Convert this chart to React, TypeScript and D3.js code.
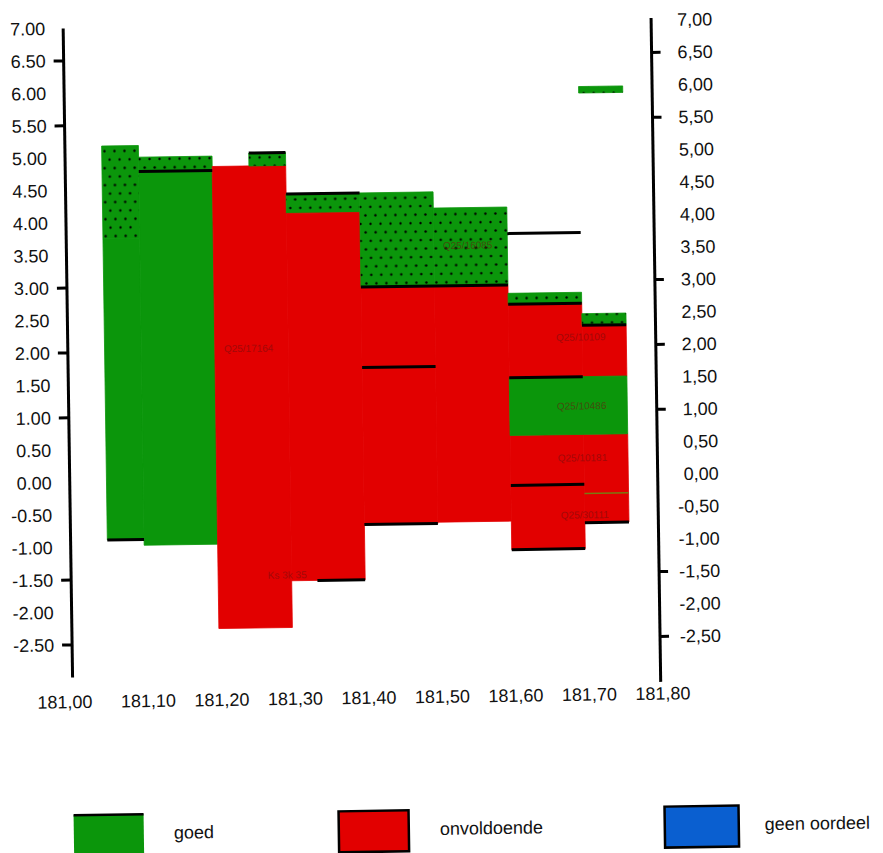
import React from "react";
import * as d3 from "d3";

// ---- data ----
const xTickValues = [181.0, 181.1, 181.2, 181.3, 181.4, 181.5, 181.6, 181.7, 181.8];
const yLabelValues = [7, 6.5, 6, 5.5, 5, 4.5, 4, 3.5, 3, 2.5, 2, 1.5, 1, 0.5, 0, -0.5, -1, -1.5, -2, -2.5];
const yTickMarkValues = [6.5, 5.5, 3, 2, 1, -1.5, -2.5];

type Cls = "goed" | "onvoldoende" | "geen oordeel";
// [from, to, top, bottom, class, dotted]
const layers: [number, number, number, number, Cls, boolean][] = [
  [181.05, 181.10, 5.18, 3.75, "goed", true],
  [181.05, 181.10, 3.75, -0.89, "goed", false],
  [181.10, 181.20, 5.00, 4.78, "goed", true],
  [181.10, 181.20, 4.78, -0.98, "goed", false],
  [181.20, 181.30, 4.84, -2.28, "onvoldoende", false],
  [181.25, 181.30, 5.04, 4.84, "goed", true],
  [181.30, 181.40, 4.40, 4.10, "goed", true],
  [181.30, 181.40, 4.10, -1.56, "onvoldoende", false],
  [181.40, 181.50, 4.40, 2.95, "goed", true],
  [181.40, 181.50, 2.95, -0.71, "onvoldoende", false],
  [181.50, 181.60, 4.15, 2.95, "goed", true],
  [181.50, 181.60, 2.95, -0.69, "onvoldoende", false],
  [181.60, 181.70, 2.82, 2.65, "goed", true],
  [181.60, 181.70, 2.65, 1.52, "onvoldoende", false],
  [181.60, 181.70, 0.63, -1.13, "onvoldoende", false],
  [181.70, 181.76, 5.99, 5.89, "goed", true],
  [181.70, 181.76, 2.49, 2.31, "goed", true],
  [181.70, 181.76, 2.31, 1.52, "onvoldoende", false],
  [181.70, 181.76, 0.63, -0.73, "onvoldoende", false],
  [181.60, 181.76, 1.52, 0.63, "goed", false],
];

// [from, to, level]
const boundaryLines: [number, number, number][] = [
  [181.05, 181.10, -0.89],
  [181.10, 181.20, 4.78],
  [181.25, 181.30, 5.04],
  [181.30, 181.40, 4.40],
  [181.335, 181.40, -1.56],
  [181.40, 181.60, 2.95],
  [181.40, 181.50, 1.71],
  [181.40, 181.50, -0.71],
  [181.60, 181.70, 3.74],
  [181.60, 181.70, 2.65],
  [181.60, 181.70, 1.52],
  [181.60, 181.70, -0.14],
  [181.60, 181.70, -1.13],
  [181.70, 181.76, 2.31],
  [181.70, 181.76, -0.73],
];
const thinLines: [number, number, number][] = [[181.70, 181.76, -0.28]];

// [position, level, text]
const sampleLabels: [number, number, string][] = [
  [181.246, 2.03, "Q25/17164"],
  [181.294, -1.47, "Ks 3k 35"],
  [181.546, 3.57, "Q25/16085"],
  [181.698, 2.13, "Q25/10109"],
  [181.698, 1.07, "Q25/10486"],
  [181.698, 0.27, "Q25/10181"],
  [181.700, -0.61, "Q25/30111"],
];

const legendNames: Cls[] = ["goed", "onvoldoende", "geen oordeel"];
const classColors: Record<Cls, string> = {
  goed: "#0b960b",
  onvoldoende: "#e20000",
  "geen oordeel": "#0a5fd0",
};

const FONT = "'Liberation Sans', Arial, sans-serif";

export default function App() {
  const x = d3.scaleLinear().domain([181.0, 181.8]).range([68, 656]);
  const y = d3.scaleLinear().domain([-2.5, 7]).range([640.75, 24.2]);
  const fmtLeft = (v: number) => v.toFixed(2);
  const fmtRight = (v: number) => v.toFixed(2).replace(".", ",");
  const fmtX = (v: number) => v.toFixed(2).replace(".", ",");

  const legendBoxX = [67, 332, 658];
  const legendBoxW = [70, 70, 74];
  const legendTextX = [167, 433, 758];

  return (
    <svg
      width={883}
      height={853}
      style={{ position: "absolute", left: 0, top: 0, background: "#fff" }}
      fontFamily={FONT}
    >
      <defs>
        <pattern id="dots" width={10} height={17} patternUnits="userSpaceOnUse">
          <circle cx={2.5} cy={3} r={1.2} fill="#000" />
          <circle cx={7.5} cy={11.5} r={1.2} fill="#000" />
        </pattern>
      </defs>
      <rect width={883} height={853} fill="#fff" />
      <g transform="rotate(-0.83 360 360)">
        {/* layers */}
        {layers.map(([a, b, t, bt, c, dotted], i) => (
          <g key={"l" + i}>
            <rect
              x={x(a)}
              y={y(t)}
              width={x(b) - x(a)}
              height={y(bt) - y(t)}
              fill={classColors[c]}
              stroke={classColors[c]}
              strokeWidth={0.8}
            />
            {dotted && (
              <rect x={x(a)} y={y(t)} width={x(b) - x(a)} height={y(bt) - y(t)} fill="url(#dots)" />
            )}
          </g>
        ))}
        {/* sample labels */}
        {sampleLabels.map(([u, v, s], i) => (
          <text
            key={"s" + i}
            x={x(u)}
            y={y(v)}
            dy="0.35em"
            textAnchor="middle"
            fontSize={10}
            fill="#6e1010"
            opacity={0.55}
          >
            {s}
          </text>
        ))}
        {/* boundaries */}
        {boundaryLines.map(([a, b, v], i) => (
          <line key={"b" + i} x1={x(a)} x2={x(b)} y1={y(v)} y2={y(v)} stroke="#000" strokeWidth={3} />
        ))}
        {thinLines.map(([a, b, v], i) => (
          <line key={"t" + i} x1={x(a)} x2={x(b)} y1={y(v)} y2={y(v)} stroke="#7a7a10" strokeWidth={1.5} />
        ))}

        {/* left axis */}
        <line x1={x(181.0)} x2={x(181.0)} y1={y(7)} y2={y(-3)} stroke="#000" strokeWidth={3} />
        {yTickMarkValues.map((v, i) => (
          <line key={"lt" + i} x1={x(181.0) - 10} x2={x(181.0)} y1={y(v)} y2={y(v)} stroke="#000" strokeWidth={3} />
        ))}
        {yLabelValues.map((v, i) => (
          <text key={"ll" + i} x={50} y={y(v)} dy="0.35em" textAnchor="end" fontSize={18} fill="#111">
            {fmtLeft(v)}
          </text>
        ))}

        {/* right axis */}
        <line x1={x(181.8)} x2={x(181.8)} y1={y(7.03)} y2={y(-3.2)} stroke="#000" strokeWidth={3} />
        {yTickMarkValues.map((v, i) => (
          <line key={"rt" + i} x1={x(181.8)} x2={x(181.8) + 9} y1={y(v)} y2={y(v)} stroke="#000" strokeWidth={3} />
        ))}
        {yLabelValues.map((v, i) => (
          <text key={"rl" + i} x={717} y={y(v)} dy="0.35em" textAnchor="end" fontSize={18} fill="#111">
            {fmtRight(v)}
          </text>
        ))}

        {/* x labels */}
        {xTickValues.map((v, i) => (
          <text
            key={"xl" + i}
            x={x(v) + (i === 0 ? -8 : 2)}
            y={704}
            textAnchor="middle"
            fontSize={18}
            fill="#111"
          >
            {fmtX(v)}
          </text>
        ))}

        {/* legend */}
        {legendNames.map((n, i) => (
          <g key={"lg" + i}>
            <rect
              x={legendBoxX[i]}
              y={811}
              width={legendBoxW[i]}
              height={41}
              fill={classColors[n]}
              stroke={i === 0 ? "none" : "#000"}
              strokeWidth={2.5}
            />
            {i === 0 && (
              <line
                x1={legendBoxX[i]}
                x2={legendBoxX[i] + legendBoxW[i]}
                y1={811}
                y2={811}
                stroke="#000"
                strokeWidth={2.5}
              />
            )}
            <text x={legendTextX[i]} y={836} fontSize={18} fill="#111">
              {n}
            </text>
          </g>
        ))}
      </g>
    </svg>
  );
}
